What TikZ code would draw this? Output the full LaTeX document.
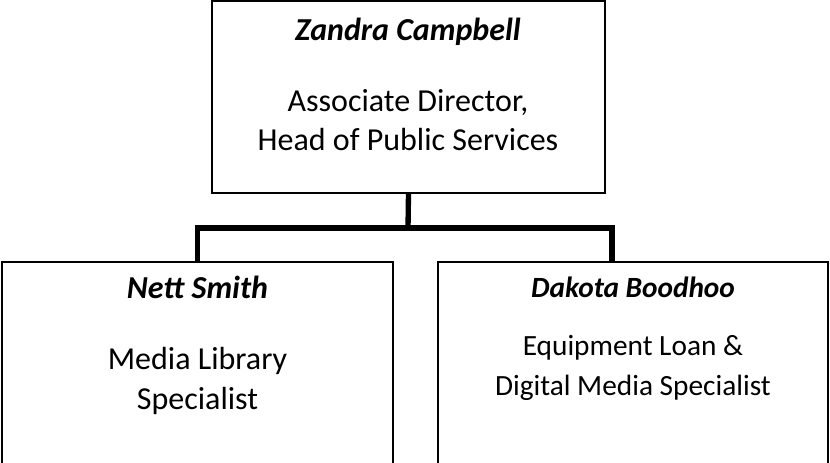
\documentclass[tikz,border=0pt]{standalone}
\usepackage{fontspec}
\setmainfont{Carlito}
\usetikzlibrary{positioning}

\begin{document}
\begin{tikzpicture}[x=0.75pt,y=-0.75pt,
  box/.style={draw,line width=1.4pt,inner sep=0pt,outer sep=0pt},
  who/.style={font=\fontsize{#1}{#1}\selectfont\bfseries\itshape},
  job/.style={align=center,font=\fontsize{#1}{29.5}\selectfont},
  link/.style={line width=4pt,line join=miter}]
\useasboundingbox (0,0) rectangle (830,462);
\clip (0,0) rectangle (830,462);
\node [box,minimum width=294.75pt,minimum height=144pt] (zandra) at (408.5,97) {};
\node [who=24] (zandraname) at (408,32) {Zandra Campbell};
\node [job=24] (zandrajob) at (408,120) {Associate Director,\\Head of Public Services};
  \foreach \nid/\name/\job/\pos/\tpos/\fs in {nett/Nett Smith/Media Library\\Specialist/197.5/381/24,
      dakota/Dakota Boodhoo/Equipment Loan \&\\Digital Media Specialist/633/368/22}
  { \node [box,minimum width=293pt,minimum height=225pt] (\nid) at (\pos,412) {};
    \node [who=\fs] (\nid name) at (\pos,287) {\name};
    \node [job=\fs] (\nid job) at (\pos,\tpos) {\job};}
\coordinate (fork) at (408,228);
\draw [link] (zandra.south) -- (fork);
\draw [link] (nett.north) |- (fork) -| ([xshift=-15.75pt]dakota.north);
\end{tikzpicture}
\end{document}
